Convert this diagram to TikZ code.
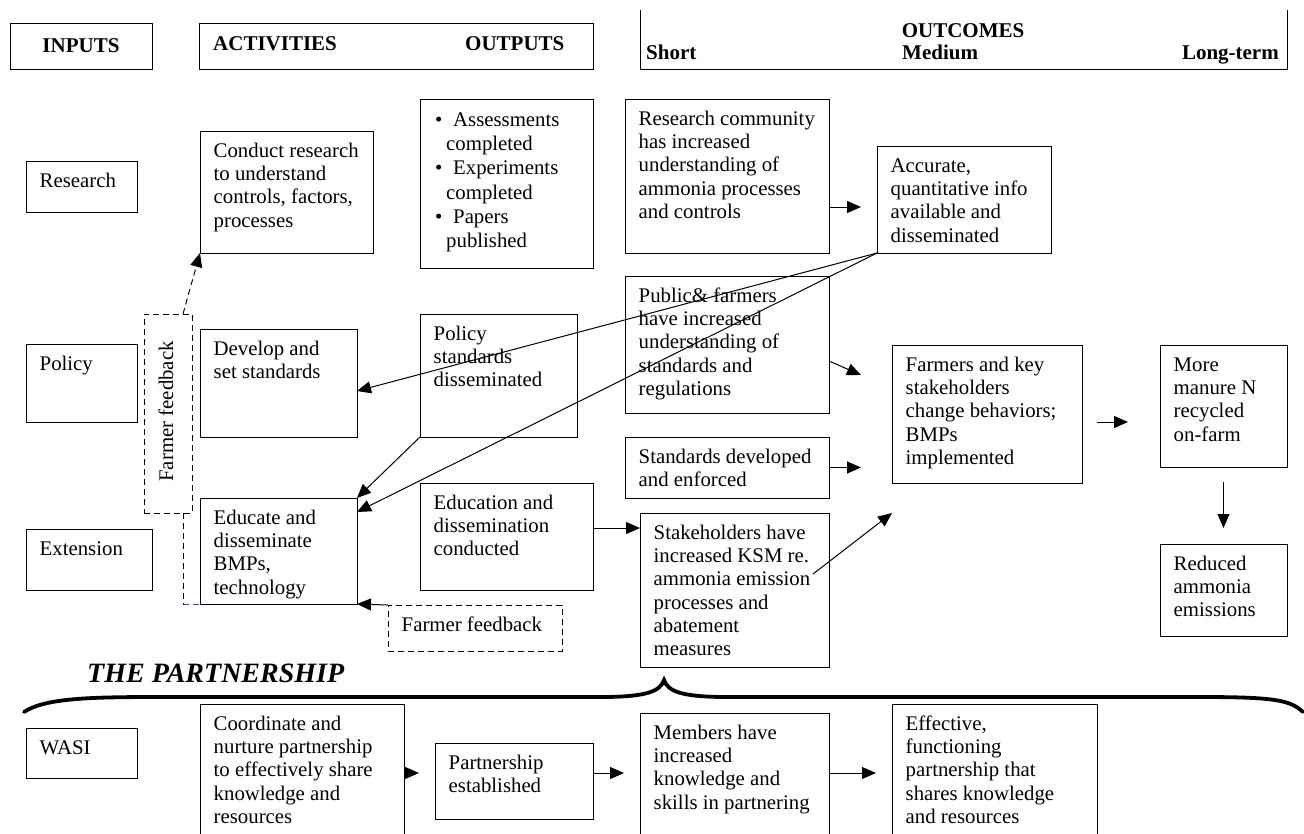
\documentclass[tikz,border=0pt]{standalone}
\usepackage{fontspec}
\setmainfont{Liberation Serif}
\usetikzlibrary{arrows.meta}
\definecolor{fbpurple}{RGB}{150,40,150}
\newcommand\mkbox[7][boxst]{%
  \pgfmathsetmacro\mybw{#5-#3}\pgfmathsetmacro\mybh{#6-#4}%
  \node[#1, minimum width=\mybw pt, minimum height=\mybh pt] (#2) at ({(#3+#5)/2},{(#4+#6)/2}) {};%
  \node[txt] (#2t) at ([shift={(13.5,9.7)}]#2.north west) {\strut #7};}
\begin{document}
\begin{tikzpicture}[x=1pt,y=-1pt,
  boxst/.style={draw, line width=1pt, inner sep=0pt, outer sep=0pt},
  dbox/.style={boxst, dash pattern=on 6pt off 4pt},
  txt/.style={anchor=north west, align=left, inner sep=0pt, font=\fontsize{20.8}{23.3}\selectfont},
  hdr/.style={inner sep=0pt, font=\fontsize{21}{25}\selectfont\bfseries, anchor=base},
  arr/.style={line width=1pt, -{Triangle[length=14pt,width=12pt]}},
  dsh/.style={line width=1pt, dash pattern=on 6pt off 4pt},
]
\clip (0,0) rectangle (1304,833);
\fill[white] (0,0) rectangle (1304,833);

% ---- header ----
\mkbox{hin}{10}{23}{152}{69}{}
\mkbox{hact}{199}{23}{593}{69}{}
\draw[line width=1pt] (640,10) -- (640,69) -- (1287,69) -- (1287,10);
\node[hdr] (tin) at (81,52) {INPUTS};
\node[hdr, anchor=base west] (tact) at (213,50) {ACTIVITIES};
\node[hdr, anchor=base west] (tout) at (465,50) {OUTPUTS};
\node[hdr] (toc) at (963,37) {OUTCOMES};
\node[hdr, anchor=base west] (tsh) at (646,59) {Short};
\node[hdr, anchor=base west] (tmed) at (902,59) {Medium};
\node[hdr, anchor=base east] (tlong) at (1279,59) {Long-term};

% ---- inputs ----
\mkbox{research}{26}{161}{137}{212}{Research}
\mkbox{policy}{26}{344}{137}{422}{Policy}
\mkbox{extension}{26}{529}{152}{590}{Extension}
\mkbox{wasi}{26}{728}{137}{778}{WASI}

% ---- activities ----
\mkbox{conduct}{200}{131}{373}{253}{Conduct research\\to understand\\controls, factors,\\processes}
\mkbox{develop}{200}{329}{357}{437}{Develop and\\set standards}
\mkbox{educate}{200}{498}{357}{604}{Educate and\\disseminate\\BMPs,\\technology}
\mkbox{coord}{200}{704}{404}{850}{Coordinate and\\nurture partnership\\to effectively share\\knowledge and\\resources}

% ---- outputs ----
\mkbox{bullets}{420}{99}{593}{268}{}
\node[anchor=north west, align=left, inner sep=0pt, font=\fontsize{20.8}{24.3}\selectfont] (bulletst) at (435,109) {\strut\makebox[18pt][l]{\textbullet}Assessments\\\hspace*{11pt}completed\\\makebox[18pt][l]{\textbullet}Experiments\\\hspace*{11pt}completed\\\makebox[18pt][l]{\textbullet}Papers\\\hspace*{11pt}published};
\mkbox{polstd}{420}{314}{577}{437}{Policy\\standards\\disseminated}
\mkbox{educon}{420}{483}{593}{590}{Education and\\dissemination\\conducted}
\mkbox{partest}{435}{743}{593}{819}{Partnership\\established}

% ---- outcomes ----
\mkbox{rescom}{625}{99}{829}{253}{Research community\\has increased\\understanding of\\ammonia processes\\and controls}
\mkbox{public}{625}{276}{829}{413}{Public\& farmers\\have increased\\understanding of\\standards and\\regulations}
\mkbox{stddev}{625}{437}{829}{498}{Standards developed\\and enforced}
\mkbox{stake}{640}{513}{829}{667}{Stakeholders have\\increased KSM re.\\ammonia emission\\processes and\\abatement\\measures}
\mkbox{members}{640}{713}{829}{850}{Members have\\increased\\knowledge and\\skills in partnering}
\mkbox{accurate}{877}{146}{1051}{253}{Accurate,\\quantitative info\\available and\\disseminated}
\mkbox{farmers}{892}{345}{1082}{483}{Farmers and key\\stakeholders\\change behaviors;\\BMPs\\implemented}
\mkbox{effective}{892}{704}{1097}{850}{Effective,\\functioning\\partnership that\\shares knowledge\\and resources}
\mkbox{manure}{1160}{345}{1287}{467}{More\\manure N\\recycled\\on-farm}
\mkbox{reduced}{1160}{544}{1287}{636}{Reduced\\ammonia\\emissions}

% ---- farmer feedback ----
\mkbox[dbox]{ffv}{144}{314}{192}{513}{}
\node[rotate=90, anchor=base, inner sep=0pt, font=\fontsize{20.8}{23.3}\selectfont] (ffvtext) at (173,411.5) {Farmer feedback};
\mkbox[dbox]{ffh}{388}{605}{562}{651}{Farmer feedback}

% ---- connectors ----
\coordinate (e1) at (861,207);
\draw[arr] (rescom.east |- e1) -- (e1);
\coordinate (e2) at (861,375);
\draw[arr] (public.east |- 0,361) -- (e2);
\coordinate (e3) at (861,467.5);
\draw[arr] (stddev.east) -- (e3);
\coordinate (s4) at (813,574);
\coordinate (e4) at (892,513);
\draw[arr] (s4) -- (e4);
\coordinate (s5) at (1097,422);
\coordinate (e5) at (1128,422);
\draw[arr] (s5) -- (e5);
\coordinate (s6) at (1223.5,482);
\coordinate (e6) at (1223.5,528);
\draw[arr] (s6) -- (e6);
\draw[arr] (accurate.south west) -- (develop.east |- 0,391);
\draw[arr] (accurate.south west) -- (educate.east |- 0,512);
\draw[arr] (polstd.south west) -- (educate.north east);
\draw[arr] (educon.east |- 0,528) -- (stake.west |- 0,528);
\draw[arr] (ffh.north west) -- (educate.south east);
\draw[arr, dash pattern=on 6pt off 4pt] ([xshift=-9pt]ffv.north east) -- (conduct.south west);
\coordinate (fbc) at ([xshift=-9pt]ffv.south east |- educate.south west);
\draw[dsh] ([xshift=-9pt]ffv.south east) -- (fbc);
\draw[dsh, fbpurple] (fbc) -- (educate.south west);
\coordinate (e14) at (419,773);
\draw[arr] (coord.east |- e14) -- (e14);
\coordinate (e15) at (624,773);
\draw[arr] (partest.east |- e15) -- (e15);
\coordinate (e16) at (876,773);
\draw[arr] (members.east |- e16) -- (e16);

% ---- partnership ----
\node[anchor=base west, inner sep=0pt, font=\fontsize{28}{32}\selectfont\bfseries\itshape] (partner) at (87,682) {THE PARTNERSHIP};
\draw[line width=3.8pt, line cap=round] (24,712) .. controls (45,698) and (90,697) .. (160,697) -- (600,697) .. controls (645,697) and (660,692) .. (664,680) .. controls (668,692) and (683,697) .. (728,697) -- (1200,697) .. controls (1275,697) and (1290,700) .. (1303,712);
\end{tikzpicture}
\end{document}
